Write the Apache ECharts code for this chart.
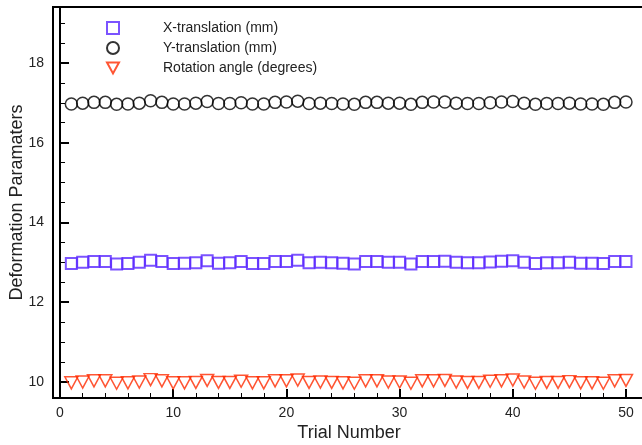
<!DOCTYPE html>
<html>
<head>
<meta charset="utf-8">
<script src="https://cdn.jsdelivr.net/npm/echarts@6/dist/echarts.min.js"></script>
<style>
html,body{margin:0;padding:0;background:#fff;}
#chart{width:642px;height:445px;}
</style>
</head>
<body>
<div id="chart"></div>
<script>
var trials = [];
for (var t = 1; t <= 50; t++) trials.push(t);

var xTranslation = [12.97,13.00,13.02,13.02,12.96,12.97,13.00,13.05,13.02,12.97,12.98,12.99,13.04,12.98,12.99,13.02,12.97,12.97,13.02,13.02,13.05,12.99,13.00,12.99,12.98,12.96,13.02,13.02,13.00,13.00,12.96,13.02,13.02,13.03,13.00,12.99,12.99,13.01,13.03,13.04,13.00,12.97,12.99,12.99,13.00,12.98,12.98,12.97,13.02,13.02];
var yTranslation = [16.97,16.99,17.01,17.01,16.96,16.97,16.99,17.05,17.01,16.97,16.97,16.99,17.03,16.98,16.98,17.00,16.97,16.97,17.01,17.02,17.04,16.98,16.99,16.98,16.97,16.96,17.01,17.01,16.99,16.99,16.96,17.01,17.02,17.02,16.99,16.98,16.98,17.00,17.02,17.03,16.99,16.96,16.98,16.98,16.99,16.97,16.97,16.96,17.01,17.02];
var rotationAngle = [9.98,10.00,10.03,10.03,9.97,9.98,10.00,10.06,10.03,9.98,9.98,9.99,10.04,9.99,9.99,10.02,9.98,9.98,10.03,10.03,10.05,9.99,10.00,9.99,9.98,9.97,10.03,10.03,10.00,10.00,9.97,10.03,10.03,10.04,10.00,9.99,9.99,10.02,10.03,10.05,10.00,9.97,9.99,9.99,10.01,9.98,9.98,9.97,10.03,10.04];

var seriesNames = ['X-translation (mm)', 'Y-translation (mm)', 'Rotation angle (degrees)'];
var xTickLabels = ['0','10','20','30','40','50'];
var yTickLabels = ['10','12','14','16','18'];

function pairs(vals){ return vals.map(function(v,i){ return [trials[i], v]; }); }

var chart = echarts.init(document.getElementById('chart'), null, {renderer:'canvas'});
var font = 'Liberation Sans, Arial, Helvetica, sans-serif';
var invTri = 'path://M0,0 L12,0 L6,11 Z';
chart.setOption({
  animation: false,
  backgroundColor: '#fff',
  grid: {left: 53, top: 7, right: -3, bottom: 47, show: true, borderColor: '#000', borderWidth: 2,
         backgroundColor: 'transparent', containLabel: false, outerBoundsMode: 'none'},
  legend: {
    orient: 'vertical', left: 101, top: 16, itemWidth: 12, itemHeight: 12, itemGap: 6,
    textStyle: {fontFamily: font, fontSize: 14, color: '#222', padding: [0, 0, 0, 39]},
    data: [
      {name: seriesNames[0], icon: 'rect'},
      {name: seriesNames[1], icon: 'circle'},
      {name: seriesNames[2], icon: invTri}
    ]
  },
  xAxis: {
    type: 'value', min: -0.62, max: 51.68,
    name: 'Trial Number', nameLocation: 'middle', nameGap: 26, nameMoveOverlap: false,
    nameTextStyle: {fontFamily: font, fontSize: 18, color: '#222'},
    axisLine: {lineStyle: {color: '#000', width: 2}},
    axisTick: {inside: true, length: 9, lineStyle: {color: '#000', width: 2}},
    minorTick: {show: true, splitNumber: 5, length: 5, lineStyle: {color: '#000', width: 1}},
    splitLine: {show: false},
    axisLabel: {fontFamily: font, fontSize: 14, color: '#222', margin: 8, showMinLabel: false, showMaxLabel: false,
      formatter: function(v){ var s = String(Math.round(v)); return (Math.abs(v - Math.round(v)) < 1e-6 && xTickLabels.indexOf(s) >= 0) ? s : ''; }}
  },
  yAxis: {
    type: 'value', min: 9.6, max: 19.4,
    name: 'Deformation Paramaters', nameLocation: 'middle', nameGap: 27, nameMoveOverlap: false,
    nameTextStyle: {fontFamily: font, fontSize: 18, color: '#222'},
    axisLine: {lineStyle: {color: '#000', width: 2}},
    axisTick: {inside: true, length: 9, lineStyle: {color: '#000', width: 2}},
    minorTick: {show: true, splitNumber: 4, length: 5, lineStyle: {color: '#000', width: 1}},
    splitLine: {show: false},
    axisLabel: {fontFamily: font, fontSize: 14, color: '#222', margin: 9, showMinLabel: false, showMaxLabel: false,
      formatter: function(v){ var s = String(Math.round(v)); return (Math.abs(v - Math.round(v)) < 1e-6 && yTickLabels.indexOf(s) >= 0) ? s : ''; }}
  },
  series: [
    {name: seriesNames[0], type: 'scatter', data: pairs(xTranslation), symbol: 'rect', symbolSize: 11,
     itemStyle: {color: 'rgba(255,255,255,0)', borderColor: '#5a28ff', borderWidth: 2}},
    {name: seriesNames[1], type: 'scatter', data: pairs(yTranslation), symbol: 'circle', symbolSize: 12,
     itemStyle: {color: 'rgba(255,255,255,0)', borderColor: '#000', borderWidth: 1.5}},
    {name: seriesNames[2], type: 'scatter', data: pairs(rotationAngle), symbol: 'triangle', symbolRotate: 180, symbolSize: [13, 12],
     itemStyle: {color: 'rgba(255,255,255,0)', borderColor: '#ff2a00', borderWidth: 1.5}}
  ]
});
</script>
</body>
</html>
